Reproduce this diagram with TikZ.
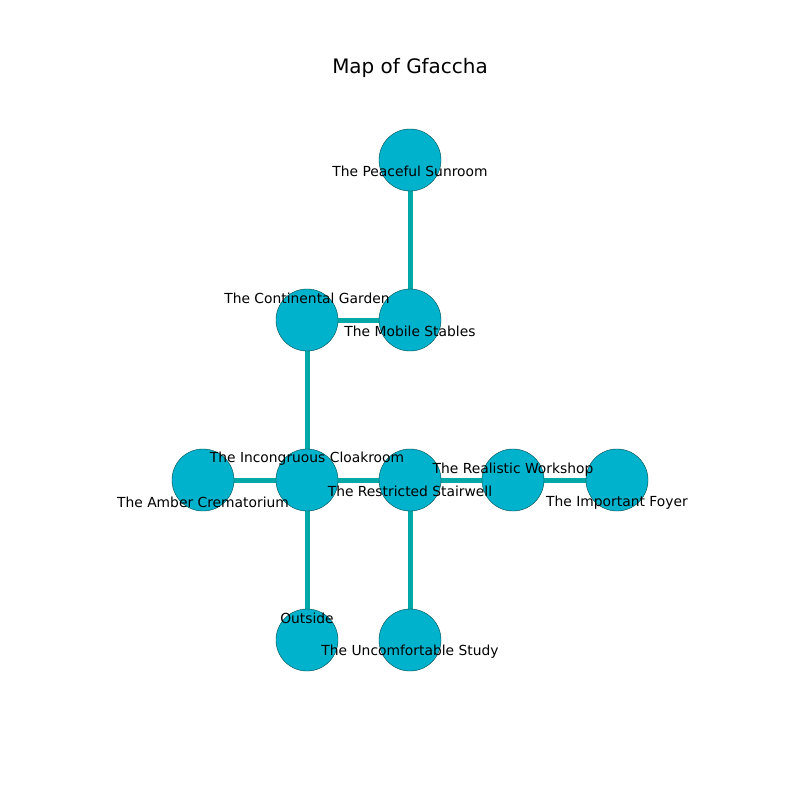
\documentclass[tikz,border=0pt]{standalone}
\usepackage{fontspec}
\setmainfont{DejaVu Sans}
\begin{document}
\begin{tikzpicture}[x=0.01in,y=-0.01in,
  room/.style={circle,draw=black!40!teal,line width=0.3pt,fill=nodefill,minimum size=0.62in,inner sep=0pt},
  link/.style={draw=edgecol,line width=0.05in},
  lbl/.style={font=\fontsize{10pt}{12pt}\selectfont,inner sep=0pt,text=black}]
\definecolor{nodefill}{RGB}{0,178,204}
\definecolor{edgecol}{RGB}{0,168,168}
\useasboundingbox[fill=white] (0,0) rectangle (800,800);
\node[font=\fontsize{14.4pt}{16pt}\selectfont,inner sep=0pt] (title) at (410,68) {Map of Gfaccha};
% coordinates
\coordinate (ps) at (410,160);
\coordinate (ms) at (410,320);
\coordinate (cg) at (307,320);
\coordinate (ic) at (307,480);
\coordinate (ac) at (203,480);
\coordinate (rs) at (410,480);
\coordinate (rw) at (513,480);
\coordinate (if) at (617,480);
\coordinate (ou) at (307,640);
\coordinate (us) at (410,640);
% edges
\draw[link] (ps) -- (ms);
\draw[link] (ms) -- (cg);
\draw[link] (cg) -- (ic);
\draw[link] (ic) -- (ac);
\draw[link] (ic) -- (rs);
\draw[link] (ic) -- (ou);
\draw[link] (rs) -- (rw);
\draw[link] (rw) -- (if);
\draw[link] (rs) -- (us);
% nodes
\node[room] (nps) at (ps) {};
\node[room] (nms) at (ms) {};
\node[room] (ncg) at (cg) {};
\node[room] (nic) at (ic) {};
\node[room] (nac) at (ac) {};
\node[room] (nrs) at (rs) {};
\node[room] (nrw) at (rw) {};
\node[room] (nif) at (if) {};
\node[room] (nou) at (ou) {};
\node[room] (nus) at (us) {};
% labels
\node[lbl] (lps) at (410,171.5) {The Peaceful Sunroom};
\node[lbl] (lms) at (410,331.5) {The Mobile Stables};
\node[lbl] (lcg) at (307,298.5) {The Continental Garden};
\node[lbl] (lic) at (307,458.5) {The Incongruous Cloakroom};
\node[lbl] (lac) at (203,502.5) {The Amber Crematorium};
\node[lbl] (lrs) at (410,491.5) {The Restricted Stairwell};
\node[lbl] (lrw) at (513,469.5) {The Realistic Workshop};
\node[lbl] (lif) at (617,502.5) {The Important Foyer};
\node[lbl] (lou) at (307,618.5) {Outside};
\node[lbl] (lus) at (410,651.5) {The Uncomfortable Study};
\end{tikzpicture}
\end{document}
